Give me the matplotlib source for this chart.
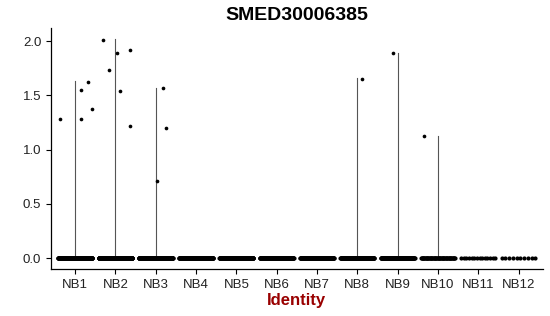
import numpy as np
import matplotlib
matplotlib.use("Agg")
import matplotlib.pyplot as plt

plt.rcParams['font.family'] = ['Liberation Sans', 'DejaVu Sans']

gene = 'SMED30006385'
groups = ['NB1', 'NB2', 'NB3', 'NB4', 'NB5', 'NB6',
          'NB7', 'NB8', 'NB9', 'NB10', 'NB11', 'NB12']

# number of cells with zero expression in each cluster
zero_counts = [300, 280, 260, 250, 240, 160, 150, 140, 120, 60, 14, 10]

# max expression per cluster (top of the collapsed violin)
violin_max = [1.63, 2.02, 1.57, 0, 0, 0, 0, 1.66, 1.89, 1.13, 0, 0]

# non-zero cells: cluster index, jitter offset, expression
nz_group = [0, 0, 0, 0, 0, 1, 1, 1, 1, 1, 1, 2, 2, 2, 7, 8, 9]
nz_offset = [-0.37, 0.15, 0.15, 0.32, 0.42,
             -0.32, -0.15, 0.05, 0.12, 0.35, 0.37,
             0.17, 0.25, 0.02, 0.12, -0.12, -0.35]
nz_value = [1.28, 1.55, 1.28, 1.62, 1.37,
            2.01, 1.73, 1.89, 1.54, 1.92, 1.22,
            1.57, 1.20, 0.71, 1.65, 1.89, 1.13]

fig = plt.figure(figsize=(5.5, 3.16), dpi=100)
ax = fig.add_axes([0.0927, 0.149, 0.894, 0.762])

pos = np.arange(1, len(groups) + 1)

# collapsed violins drawn as thin vertical lines
for x, top in zip(pos, violin_max):
    if top > 0:
        ax.plot([x, x], [0, top], color='#555555', lw=0.8, zorder=1)

# zero points spread across the cluster width
for x, n in zip(pos, zero_counts):
    xs = x + np.linspace(-0.42, 0.42, n)
    ax.scatter(xs, np.zeros(n), s=9, color='black', lw=0, zorder=2)

ax.scatter(pos[nz_group] + np.array(nz_offset), nz_value,
           s=7, color='black', lw=0, zorder=3)

ax.set_xlim(0.4, 12.6)
ax.set_ylim(-0.1, 2.12)
ax.set_xticks(pos)
ax.set_xticklabels(groups)
ax.set_yticks([0, 0.5, 1.0, 1.5, 2.0])
ax.set_yticklabels(['0.0', '0.5', '1.0', '1.5', '2.0'])
ax.tick_params(labelsize=9.5, length=3.5, width=0.8, color='black', labelcolor='#222222')

for side in ['top', 'right']:
    ax.spines[side].set_visible(False)
for side in ['left', 'bottom']:
    ax.spines[side].set_linewidth(0.9)

ax.set_xlabel('Identity', fontsize=12, fontweight='bold', color='#990000', labelpad=2)
ax.set_title(gene, fontsize=14, fontweight='bold', pad=6)

fig.savefig('out.png', dpi=100)
